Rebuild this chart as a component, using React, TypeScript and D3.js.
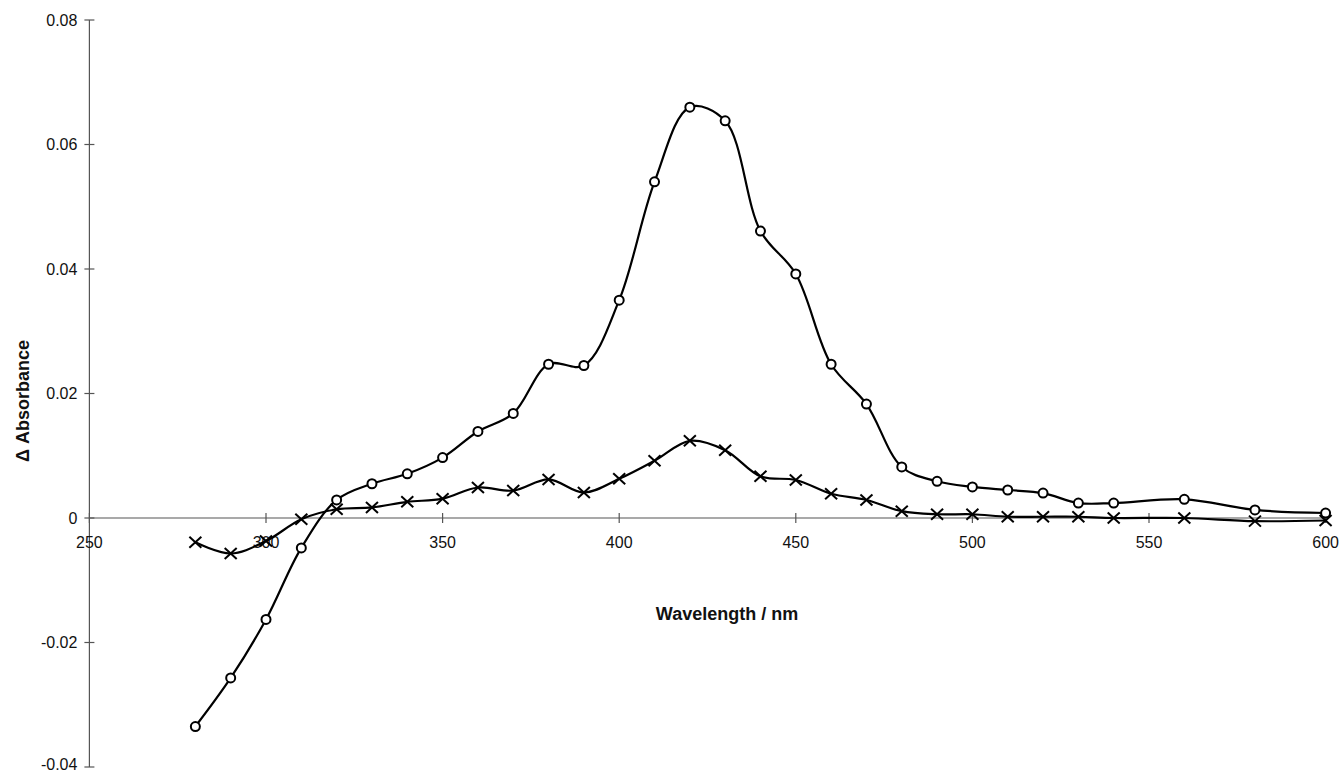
import * as d3 from "d3";

const wavelengths = [280, 290, 300, 310, 320, 330, 340, 350, 360, 370, 380, 390, 400, 410, 420, 430, 440, 450, 460, 470, 480, 490, 500, 510, 520, 530, 540, 560, 580, 600];

const circleSeries = [
  -0.0335, -0.0257, -0.0163, -0.0048, 0.0029, 0.0055, 0.0071, 0.0097, 0.0139, 0.0168,
  0.0247, 0.0245, 0.035, 0.054, 0.066, 0.0638, 0.0461, 0.0392, 0.0247, 0.0183,
  0.0082, 0.0059, 0.005, 0.0045, 0.004, 0.0024, 0.0024, 0.003, 0.0013, 0.0008,
];

const crossSeries = [
  -0.0039, -0.0057, -0.0037, -0.0002, 0.0014, 0.0017, 0.0026, 0.0031, 0.0049, 0.0044,
  0.0062, 0.0041, 0.0063, 0.0092, 0.0124, 0.0109, 0.0067, 0.0061, 0.0039, 0.0029,
  0.0011, 0.0006, 0.0006, 0.0002, 0.0002, 0.0002, 0, 0, -0.0005, -0.0004,
];

const xTicks = [250, 300, 350, 400, 450, 500, 550, 600];
const yTicks = [-0.04, -0.02, 0, 0.02, 0.04, 0.06, 0.08];

const width = 1341;
const height = 774;

export default function App() {
  const x = d3.scaleLinear([250, 600], [89.4, 1325.6]);
  const y = d3.scaleLinear([-0.04, 0.08], [767, 20]);
  const y0 = y(0);

  const line = d3
    .line<number>((d, i) => x(wavelengths[i]), (d) => y(d))
    .curve(d3.curveCatmullRom.alpha(0.5));

  const font = "Arial, 'Liberation Sans', Helvetica, sans-serif";
  const axisColor = "#555";

  return (
    <div style={{ position: "absolute", left: 0, top: 0 }}>
      <svg width={width} height={height} style={{ display: "block", background: "#fff" }}>
        {/* y axis */}
        <line x1={x(250)} x2={x(250)} y1={y(0.08)} y2={y(-0.04)} stroke={axisColor} strokeWidth={1.2} />
        {yTicks.map((t) => (
          <g key={t} transform={`translate(${x(250)},${y(t)})`}>
            <line x1={-5} x2={5} stroke={axisColor} strokeWidth={1.2} />
            <text x={-12} dy={t === -0.04 ? "0.2em" : "0.35em"} textAnchor="end" fontFamily={font} fontSize={16} fill="#111">
              {t === 0 ? "0" : t.toFixed(2)}
            </text>
          </g>
        ))}
        {/* x axis at zero */}
        <line x1={x(250)} x2={x(600)} y1={y0} y2={y0} stroke={axisColor} strokeWidth={1.2} />
        {xTicks.map((t) => (
          <g key={t} transform={`translate(${x(t)},${y0})`}>
            <line y1={-5} y2={5} stroke={axisColor} strokeWidth={1.2} />
            <text y={30} textAnchor="middle" fontFamily={font} fontSize={16} fill="#111">
              {t}
            </text>
          </g>
        ))}

        <text x={727} y={620} textAnchor="middle" fontFamily={font} fontSize={18} fontWeight="bold" fill="#111">
          Wavelength / nm
        </text>
        <text
          transform={`translate(29,401) rotate(-90)`}
          textAnchor="middle"
          fontFamily={font}
          fontSize={18}
          fontWeight="bold"
          fill="#111"
        >
          Δ Absorbance
        </text>

        {/* series lines */}
        <path d={line(crossSeries) as string} fill="none" stroke="#000" strokeWidth={2.2} />
        <path d={line(circleSeries) as string} fill="none" stroke="#000" strokeWidth={2.2} />

        {/* cross markers */}
        <g stroke="#000" strokeWidth={2}>
          {crossSeries.map((d, i) => {
            const cx = x(wavelengths[i]);
            const cy = y(d);
            return (
              <g key={i}>
                <line x1={cx - 6} y1={cy - 5.5} x2={cx + 6} y2={cy + 5.5} />
                <line x1={cx - 6} y1={cy + 5.5} x2={cx + 6} y2={cy - 5.5} />
              </g>
            );
          })}
        </g>

        {/* circle markers */}
        <g fill="#fff" stroke="#000" strokeWidth={2}>
          {circleSeries.map((d, i) => (
            <circle key={i} cx={x(wavelengths[i])} cy={y(d)} r={4.5} />
          ))}
        </g>
      </svg>
    </div>
  );
}
